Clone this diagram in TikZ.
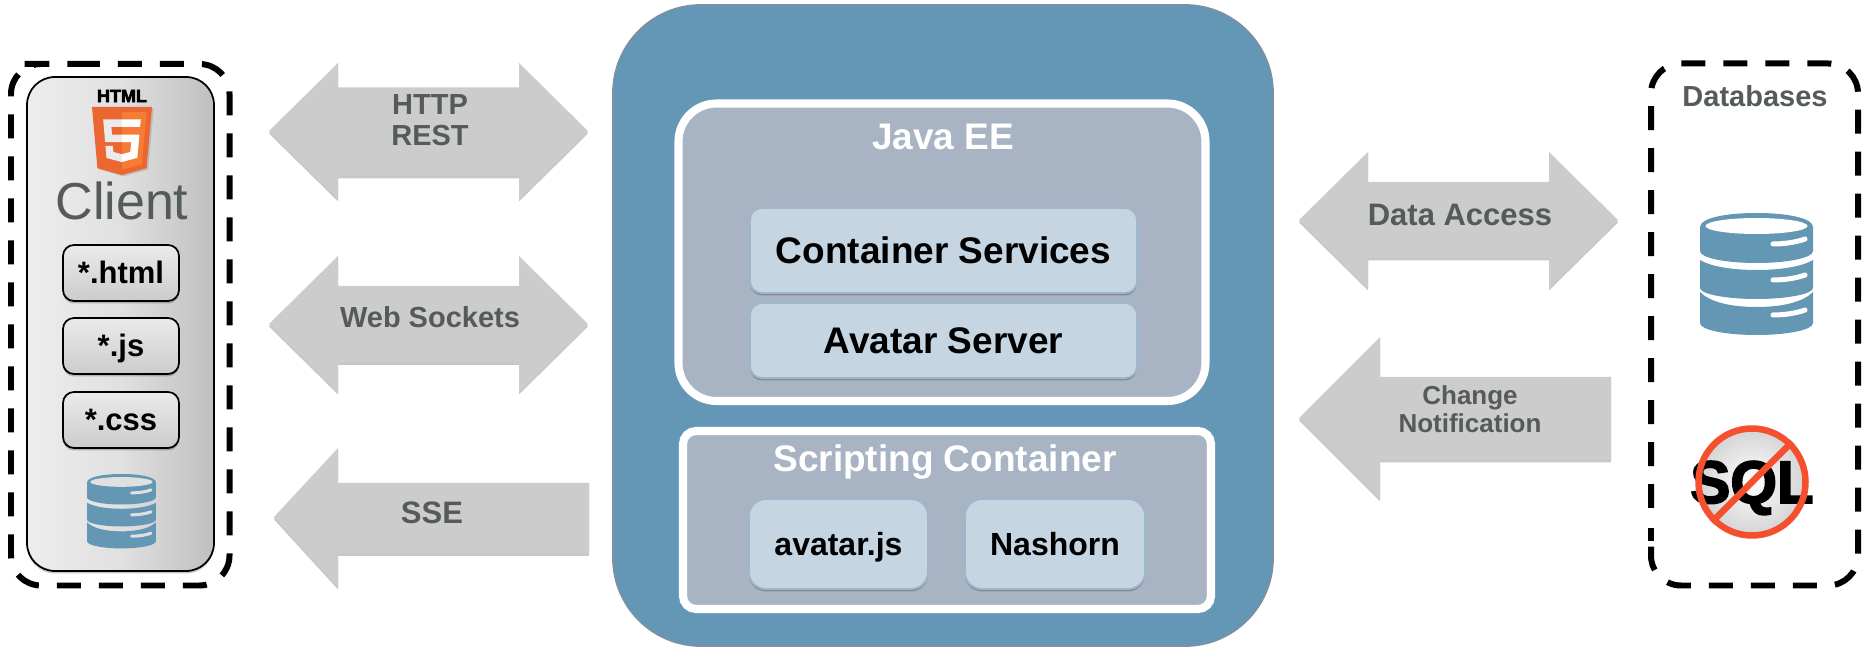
\documentclass[tikz,border=0pt]{standalone}
\usepackage{fontspec}
\setmainfont{Liberation Sans}
\newfontfamily\heavyfont{Liberation Sans Bold}[FakeBold=3]
\usetikzlibrary{shadows}
\newcommand{\pxu}{0.02cm}
\newcommand{\pfs}[2]{\pgfmathsetmacro\tmpfs{#1*0.56906}\pgfmathsetmacro\tmpfl{#2*0.56906}\fontsize{\tmpfs pt}{\tmpfl pt}\selectfont}
\definecolor{txtgrey}{HTML}{555A5A}
\definecolor{arrowgrey}{HTML}{CCCCCC}
\definecolor{mainblue}{HTML}{6496B5}
\definecolor{mainedge}{HTML}{7B90A3}
\definecolor{panelgrey}{HTML}{A8B4C4}
\definecolor{svcblue}{HTML}{C5D5E1}
\definecolor{svcedge}{HTML}{9DB8CE}
\definecolor{dbblue}{HTML}{6497B4}
\definecolor{noring}{HTML}{F4502F}
\definecolor{htmlorange}{HTML}{EB6630}
\definecolor{htmllight}{HTML}{F57C34}
\tikzset{
  softshadow/.style={general shadow={shadow xshift=0pt,shadow yshift=-1.4pt,fill=black,opacity=.22}},
  arrowshape/.style={fill=arrowgrey,draw=none,softshadow},
  arrowlabel/.style 2 args={font=\pfs{#1}{#2}\bfseries,text=txtgrey,align=center,anchor=base,inner sep=0pt},
  dashbox/.style={draw=black,line width=3.414pt,dash pattern=on 13.658pt off 10.243pt,rounded corners=30*\pxu},
  panel/.style={draw=white,fill=panelgrey,line width=4.6pt,rounded corners=#1*\pxu,softshadow},
  svcbox/.style={draw=svcedge,fill=svcblue,line width=1pt,rounded corners=#1*\pxu,softshadow,inner sep=0pt,text=black},
  boxtext/.style={font=\pfs{#1}{#1}\bfseries,text depth=0pt,text height=#1*.716*\pxu},
  filebox/.style={draw=black,line width=1pt,rounded corners=11*\pxu,top color=black!8,bottom color=black!20,softshadow,inner sep=0pt,text=black,minimum width=116*\pxu,font=\pfs{31}{31}\bfseries,text depth=0pt,text height=22*\pxu},
  title/.style={font=\pfs{37}{37}\bfseries,text=white,anchor=base,inner sep=0pt},
}
\newcommand{\dbicon}[4]{%
  \begin{scope}[shift={(#1,#2)},scale=#3]
    \fill[dbblue] (0,14) .. controls (0,5) and (26,0) .. (56.5,0) .. controls (87,0) and (113,5) .. (113,14) -- (113,38) .. controls (113,45) and (87,50) .. (56.5,50) .. controls (26,50) and (0,45) .. (0,38) -- cycle;
    \fill[#4] (56.5,13) ellipse [x radius=51,y radius=8];
    \fill[dbblue] (0,47) .. controls (10,53) and (30,57) .. (56.5,57) .. controls (83,57) and (103,53) .. (113,47) -- (113,75) .. controls (113,81) and (87,86) .. (56.5,86) .. controls (26,86) and (0,81) .. (0,75) -- cycle;
    \fill[dbblue] (0,79) .. controls (10,89) and (30,94) .. (56.5,94) .. controls (83,94) and (103,89) .. (113,79) -- (113,110) .. controls (113,117) and (87,122) .. (56.5,122) .. controls (26,122) and (0,117) .. (0,110) -- cycle;
    \foreach \dy in {0,36,71}
      \draw[#4,line width=5*#3*\pxu,line cap=round] (73,31+\dy) .. controls (85,31+\dy) and (97,29+\dy) .. (105,26+\dy);
  \end{scope}}
\begin{document}
\begin{tikzpicture}[x=0.02cm,y=-0.02cm]
\useasboundingbox (0,0) rectangle (1864,648);
\fill[white] (0,0) rectangle (1864,648);

% Client
\node[draw=black,line width=1pt,rounded corners=28*\pxu,inner sep=0pt,minimum width=187*\pxu,minimum height=494*\pxu,
  left color=black!7,right color=black!25,middle color=black!12,softshadow] (clientbox) at (120.5,324) {};
\draw[dashbox] (46,64) -- (229.5,64) -- (229.5,585.5) -- (11,585.5) -- (11,64) -- cycle;
\node[inner sep=0pt,font=\pfs{18}{18}\heavyfont] (htmlword) at (122,96) {HTML};
\begin{scope}[shift={(88,107)},scale=0.133]
  \fill[black,opacity=.12] (84,470) -- (43,10) -- (494,10) -- (453,470) -- (268,522) -- cycle;
  \fill[htmlorange] (71,460) -- (30,0) -- (481,0) -- (440,460) -- (255,512) -- cycle;
  \fill[htmllight] (256,472) -- (405,431) -- (440,37) -- (256,37) -- cycle;
  \fill[black!8] (256,208) -- (181,208) -- (176,150) -- (256,150) -- (256,94) -- (114,94) -- (129,265) -- (256,265) -- cycle;
  \fill[black!8] (256,355) -- (255,355) -- (191,338) -- (187,293) -- (131,293) -- (139,383) -- (256,415) -- cycle;
  \fill[white] (255,208) -- (255,265) -- (325,265) -- (318,338) -- (255,355) -- (255,414) -- (371,382) -- (387,208) -- cycle;
  \fill[white] (255,94) -- (255,150) -- (392,150) -- (397,94) -- cycle;
\end{scope}
\node[inner sep=0pt,anchor=base,font=\pfs{52}{52},text=txtgrey] (clientword) at (122,220) {Client};
\node[filebox,minimum height=56*\pxu] (html) at (121,273) {*.html};
\node[filebox,minimum height=56*\pxu] (js) at (121,346) {*.js};
\node[filebox,minimum height=56*\pxu] (css) at (121,420) {*.css};
\dbicon{87}{474}{0.61}{black!12}

% Left arrows
\path[arrowshape] (269,131) -- (338,63) -- (338,87.5) -- (519,87.5) -- (519,63) -- (588,131) -- (519,199) -- (519,176) -- (338,176) -- (338,199) -- cycle;
\node[arrowlabel={29}{32}] (httplabel) at (430,146) {HTTP\\REST};
\path[arrowshape] (269,324) -- (338,256) -- (338,286) -- (519,286) -- (519,256) -- (588,324) -- (519,392) -- (519,362.5) -- (338,362.5) -- (338,392) -- cycle;
\node[arrowlabel={29}{29}] (wslabel) at (430,328) {Web Sockets};
\path[arrowshape] (274,517) -- (338,448) -- (338,483) -- (589,483) -- (589,553.5) -- (338,553.5) -- (338,587) -- cycle;
\node[arrowlabel={31}{31}] (sselabel) at (432,524) {SSE};

% Main container
\node[draw=mainedge,fill=mainblue,line width=1pt,rounded corners=88*\pxu,inner sep=0pt,minimum width=660*\pxu,minimum height=641*\pxu] (main) at (943,325.5) {};
\node[panel=38,inner sep=0pt,minimum width=527*\pxu,minimum height=297.5*\pxu] (javaee) at (942,252.25) {};
\node[title] (javaword) at (943,150) {Java EE};
\node[svcbox=12,boxtext=37,minimum width=387*\pxu,minimum height=85*\pxu] (cs) at (943.5,250.5) {Container Services};
\node[svcbox=12,boxtext=37,minimum width=387*\pxu,minimum height=75*\pxu] (as) at (943.5,340.5) {Avatar Server};
\node[panel=13,inner sep=0pt,minimum width=528*\pxu,minimum height=178*\pxu] (scripting) at (947,520) {};
\node[title] (scriptword) at (945,472) {Scripting Container};
\node[svcbox=17,boxtext=32,minimum width=179*\pxu,minimum height=90*\pxu] (avatarjs) at (838.5,544) {avatar.js};
\node[svcbox=17,boxtext=32,minimum width=180*\pxu,minimum height=90*\pxu] (nashorn) at (1055,544) {Nashorn};

% Right arrows
\path[arrowshape] (1299,220) -- (1368,152) -- (1368,182) -- (1549,182) -- (1549,152) -- (1618,220) -- (1549,288) -- (1549,258) -- (1368,258) -- (1368,288) -- cycle;
\node[arrowlabel={31}{31}] (dalabel) at (1460,226) {Data Access};
\path[arrowshape] (1299,418) -- (1380,337) -- (1380,377) -- (1611,377) -- (1611,460) -- (1380,460) -- (1380,499) -- cycle;
\node[arrowlabel={26}{28.5}] (cnlabel) at (1470,433) {Change\\Notification};

% Databases
\draw[dashbox] (1651,508) -- (1651,63.5) -- (1858,63.5) -- (1858,585.5) -- (1651,585.5) -- (1651,541);
\draw[line width=3.414pt] (1651,541) -- (1651,528);
\node[inner sep=0pt,anchor=base,font=\pfs{29}{29}\bfseries,text=txtgrey] (dbword) at (1755,107) {Databases};
\dbicon{1700}{213}{1}{white}
\node[circle,inner sep=0pt,minimum size=107*\pxu,inner color=white,outer color=black!17] (nosqlbg) at (1752,482) {};
\node[inner sep=0pt,anchor=base,font=\pfs{60}{60}\heavyfont,text=black] (sqlword) at (1752,503) {SQL};
\node[circle,inner sep=0pt,minimum size=107*\pxu,draw=noring,line width=3.7pt] (nosqlring) at (1752,482) {};
\draw[noring,line width=3.7pt] (nosqlring.45) -- (nosqlring.225);
\end{tikzpicture}
\end{document}
